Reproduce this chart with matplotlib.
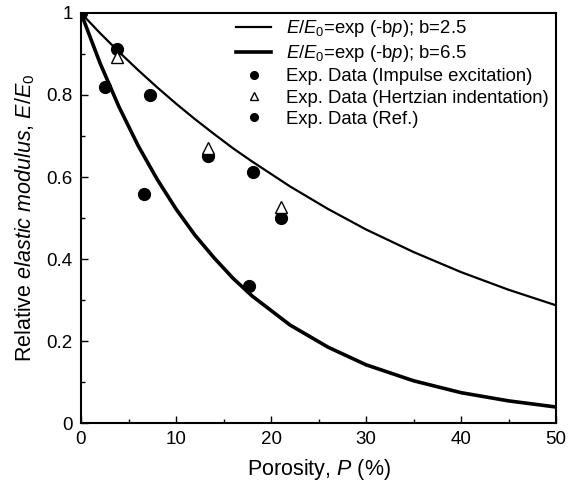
import matplotlib
matplotlib.use('Agg')
import matplotlib.pyplot as plt
from matplotlib.ticker import MultipleLocator

plt.rcParams['font.family'] = ['Liberation Sans', 'DejaVu Sans']
plt.rcParams['mathtext.fontset'] = 'custom'
plt.rcParams['mathtext.rm'] = 'Liberation Sans'
plt.rcParams['mathtext.it'] = 'Liberation Sans:italic'

# Model curves E/E0 = exp(-b p)
curve_p = [0, 2, 4, 6, 8, 10, 12, 14, 16, 18, 22, 26, 30, 35, 40, 45, 50]
curve_b25 = [1.0, 0.951, 0.905, 0.861, 0.819, 0.779, 0.741, 0.705, 0.670, 0.638,
             0.577, 0.522, 0.472, 0.417, 0.368, 0.325, 0.287]
curve_b65 = [1.0, 0.878, 0.771, 0.677, 0.595, 0.522, 0.458, 0.403, 0.353, 0.310,
             0.239, 0.185, 0.142, 0.103, 0.074, 0.054, 0.039]

# Experimental data
impulse_p = [0, 3.75, 13.4, 18.1, 21.1]
impulse_e = [1.0, 0.911, 0.650, 0.611, 0.499]
hertz_p = [3.75, 13.4, 21.1]
hertz_e = [0.893, 0.670, 0.528]
ref_p = [2.5, 6.6, 7.3, 17.7]
ref_e = [0.819, 0.559, 0.800, 0.334]

fig = plt.figure(figsize=(5.68, 4.83), dpi=100)
ax = fig.add_axes([0.1426, 0.1242, 0.8364, 0.8489])

ax.plot(curve_p, curve_b25, color='black', lw=1.6,
        label=r'$E/E_{\mathrm{0}}$=exp (-b$p$); b=2.5')
ax.plot(curve_p, curve_b65, color='black', lw=2.6,
        label=r'$E/E_{\mathrm{0}}$=exp (-b$p$); b=6.5')
ax.plot(impulse_p, impulse_e, 'o', color='black', ms=8.5, ls='none',
        label='Exp. Data (Impulse excitation)')
ax.plot(hertz_p, hertz_e, '^', mfc='white', mec='black', mew=1.0, ms=8, ls='none',
        label='Exp. Data (Hertzian indentation)')
ax.plot(ref_p, ref_e, 'o', color='black', ms=8.5, ls='none',
        label='Exp. Data (Ref.)')

ax.set_xlim(0, 50)
ax.set_ylim(0, 1)
ax.xaxis.set_major_locator(MultipleLocator(10))
ax.xaxis.set_minor_locator(MultipleLocator(5))
ax.yaxis.set_minor_locator(MultipleLocator(0.1))
ax.set_yticks([0, 0.2, 0.4, 0.6, 0.8, 1.0])
ax.set_yticklabels(['0', '0.2', '0.4', '0.6', '0.8', '1'])
ax.tick_params(which='both', direction='in', labelsize=13.5, width=1.0)
ax.tick_params(which='major', length=5, pad=6)
ax.tick_params(which='minor', length=3)
for s in ax.spines.values():
    s.set_linewidth(1.5)

ax.set_xlabel(r'Porosity, $P$ (%)', fontsize=15.5, labelpad=6)
ax.set_ylabel(r'Relative $\mathit{elastic\ modulus}$, $E/E_{\mathrm{0}}$', fontsize=15.5, labelpad=7)

ax.legend(loc='upper right', frameon=False, fontsize=13.3, handlelength=1.9,
          handletextpad=0.8, labelspacing=0.22, markerscale=0.65,
          borderaxespad=0.0, bbox_to_anchor=(1.0, 1.005))

fig.savefig('out.png', dpi=100)
